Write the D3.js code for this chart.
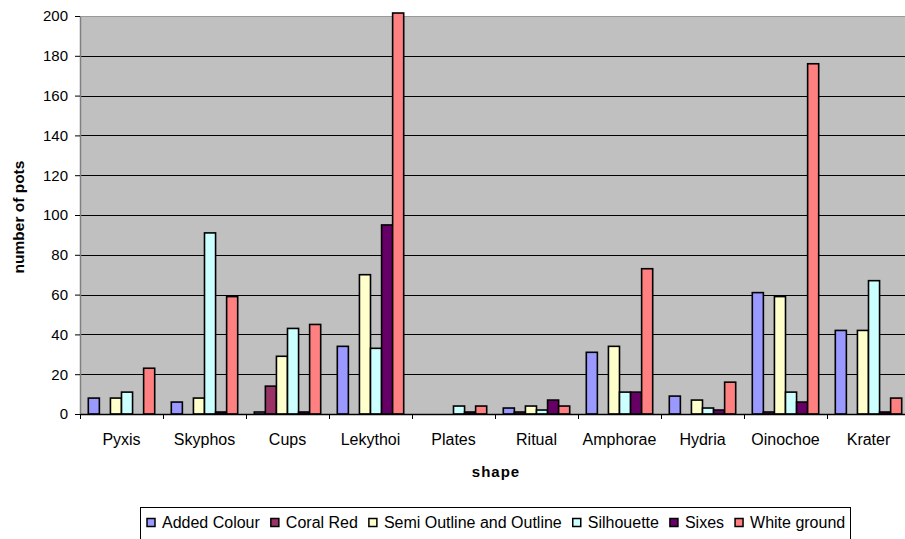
<!DOCTYPE html>
<html>
<head>
<meta charset="utf-8">
<script src="https://cdn.jsdelivr.net/npm/d3@7"></script>
<style>
  html, body { margin: 0; padding: 0; background: #fff; }
  svg { display: block; font-family: "Liberation Sans", Arial, sans-serif; }
</style>
</head>
<body>
<svg id="chart" width="905" height="539"></svg>
<script>
const categories = ["Pyxis", "Skyphos", "Cups", "Lekythoi", "Plates", "Ritual", "Amphorae", "Hydria", "Oinochoe", "Krater"];
const seriesNames = ["Added Colour", "Coral Red", "Semi Outline and Outline", "Silhouette", "Sixes", "White ground"];
const seriesColors = ["#9999FF", "#993366", "#FFFFCC", "#CCFFFF", "#660066", "#FF8080"];
const addedColour = [8, 6, 1, 34, 0, 3, 31, 9, 61, 42];
const coralRed = [0, 0, 14, 0, 0, 1, 0, 0, 1, 0];
const semiOutline = [8, 8, 29, 70, 0, 4, 34, 7, 59, 42];
const silhouette = [11, 91, 43, 33, 4, 2, 11, 3, 11, 67];
const sixes = [0, 1, 1, 95, 1, 7, 11, 2, 6, 1];
const whiteGround = [23, 59, 45, 212, 4, 4, 73, 16, 176, 8];
const yTicks = [0, 20, 40, 60, 80, 100, 120, 140, 160, 180, 200];

const seriesValues = [addedColour, coralRed, semiOutline, silhouette, sixes, whiteGround];

const svg = d3.select("#chart");
const plot = { left: 80, right: 910, top: 16, bottom: 414 };

const x0 = d3.scaleBand().domain(categories).range([plot.left, plot.right]).paddingInner(0).paddingOuter(0);
const x1 = d3.scaleBand().domain(seriesNames).range([0, x0.bandwidth()]).paddingInner(0).paddingOuter(0.75);
const y = d3.scaleLinear().domain([0, 200]).range([plot.bottom, plot.top]);

// plot background
svg.append("rect")
  .attr("x", plot.left).attr("y", plot.top)
  .attr("width", plot.right - plot.left).attr("height", plot.bottom - plot.top)
  .attr("fill", "#C0C0C0");

// gridlines
svg.append("g").selectAll("line").data(yTicks.filter(t => t > 0)).join("line")
  .attr("x1", plot.left).attr("x2", plot.right)
  .attr("y1", d => Math.round(y(d)) + 0.5).attr("y2", d => Math.round(y(d)) + 0.5)
  .attr("stroke", d => d === 200 ? "#9a9a9a" : "#000").attr("stroke-width", 1);

// bars
const data = [];
categories.forEach((c, i) => {
  seriesNames.forEach((s, j) => {
    data.push({ cat: c, ser: s, color: seriesColors[j], v: seriesValues[j][i] });
  });
});
const yClip = 201.5;
svg.append("g").selectAll("rect").data(data.filter(d => d.v > 0)).join("rect")
  .attr("x", d => x0(d.cat) + x1(d.ser))
  .attr("width", x1.bandwidth())
  .attr("y", d => y(Math.min(d.v, yClip)))
  .attr("height", d => y(0) - y(Math.min(d.v, yClip)))
  .attr("fill", d => d.color)
  .attr("stroke", "#000")
  .attr("stroke-width", 1.6);

// y axis
const yAxis = d3.axisLeft(y).tickValues(yTicks).tickSize(5).tickSizeOuter(0).tickPadding(7);
const gy = svg.append("g").attr("transform", `translate(${plot.left},0)`).call(yAxis);
gy.select(".domain").attr("stroke", "#808080").attr("stroke-width", 1.5);
gy.selectAll(".tick line").attr("stroke", "#000");
gy.selectAll(".tick text").attr("font-size", 15).attr("fill", "#000")
  .attr("font-family", "'Liberation Sans', Arial, sans-serif");

// x axis
const xAxis = d3.axisBottom(x0).tickSize(0).tickPadding(20).tickSizeOuter(0);
const gx = svg.append("g").attr("transform", `translate(0,${plot.bottom})`).call(xAxis);
gx.select(".domain").attr("stroke", "#000").attr("stroke-width", 1.5);
gx.selectAll(".tick text").attr("font-size", 16).attr("fill", "#000")
  .attr("font-family", "'Liberation Sans', Arial, sans-serif");
// category boundary ticks
svg.append("g").selectAll("line").data(categories).join("line")
  .attr("x1", d => x0(d) + 0.5).attr("x2", d => x0(d) + 0.5)
  .attr("y1", plot.bottom).attr("y2", plot.bottom + 5)
  .attr("stroke", "#000");

// axis titles
svg.append("text")
  .attr("transform", `translate(24,${(plot.top + plot.bottom) / 2 + 2}) rotate(-90)`)
  .attr("text-anchor", "middle")
  .attr("font-size", 15.5).attr("font-weight", "bold")
  .text("number of pots");
svg.append("text")
  .attr("x", (plot.left + plot.right) / 2 + 1).attr("y", 477)
  .attr("text-anchor", "middle")
  .attr("font-size", 15).attr("font-weight", "bold").attr("letter-spacing", 1)
  .text("shape");

// legend
const legend = svg.append("g");
legend.append("rect")
  .attr("x", 140.5).attr("y", 507.5).attr("width", 710).attr("height", 40)
  .attr("fill", "#fff").attr("stroke", "#000").attr("stroke-width", 1);
let lx = 147;
seriesNames.forEach((s, j) => {
  legend.append("rect")
    .attr("x", lx).attr("y", 518.5).attr("width", 8).attr("height", 8)
    .attr("fill", seriesColors[j]).attr("stroke", "#000").attr("stroke-width", 1.5);
  const t = legend.append("text")
    .attr("x", lx + 15).attr("y", 528)
    .attr("font-size", 16)
    .text(s);
  lx += 15 + t.node().getComputedTextLength() + 11;
});
</script>
</body>
</html>
